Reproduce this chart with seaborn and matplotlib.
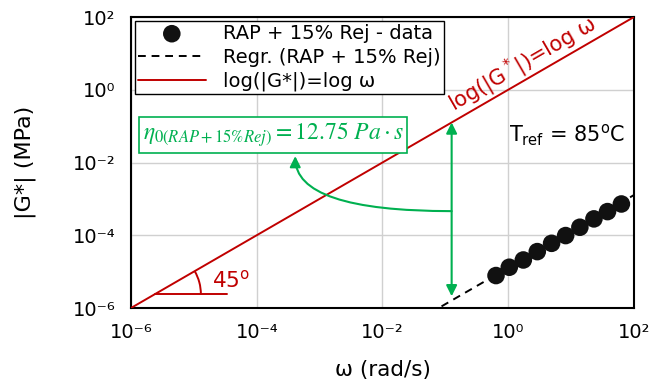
import numpy as np
import pandas as pd
import matplotlib
matplotlib.use("Agg")
import matplotlib.pyplot as plt
import matplotlib.transforms as mtransforms
from matplotlib.patches import Arc
from matplotlib.ticker import FixedLocator, FuncFormatter
import seaborn as sns

# Frequency sweep data (RAP + 15% Rej)
omega = [0.64, 1.04, 1.74, 2.90, 4.90, 8.20, 13.8, 23.1, 38.0, 63.1]          # rad/s
g_star = [7.8e-6, 1.32e-5, 2.09e-5, 3.55e-5, 6.0e-5, 9.8e-5, 1.66e-4,
          2.82e-4, 4.47e-4, 7.24e-4]                                          # MPa

# Newtonian regression: |G*| = eta0 * omega
eta0 = 12.75                      # Pa.s
reg_omega = [0.087, 100]
reg_g = [eta0 * 1e-6 * w for w in reg_omega]

# reference line log|G*| = log omega
ref_omega = [1e-6, 1e2]
ref_g = [1e-6, 1e2]

decades = [1e-6, 1e-4, 1e-2, 1e0, 1e2]

RED = "#C00000"
GREEN = "#00B050"

sns.set_theme(style="white")
plt.rcParams["font.family"] = ["DejaVu Sans"]
plt.rcParams["text.color"] = "black"

SUP = str.maketrans("-0123456789", "⁻⁰¹²³⁴⁵⁶⁷⁸⁹")


def pow10(v, pos):
    return "10" + str(int(round(np.log10(v)))).translate(SUP)


fig = plt.figure(figsize=(6.49, 3.85), dpi=100)
ax = fig.add_axes([0.2018, 0.2, 0.775, 0.7558])
ax.set_xscale("log")
ax.set_yscale("log")
ax.set_xlim(1e-6, 1e2)
ax.set_ylim(1e-6, 1e2)

sns.lineplot(x=ref_omega, y=ref_g, color=RED, lw=1.4, ax=ax,
             label="log(|G*|)=log ω", zorder=3)
sns.lineplot(x=reg_omega, y=reg_g, color="black", lw=1.4, ls=(0, (4, 3)), ax=ax,
             label="Regr. (RAP + 15% Rej)", zorder=3)
sns.scatterplot(x=omega, y=g_star, color="#111111", s=160, edgecolor="none", ax=ax,
                label="RAP + 15% Rej - data", zorder=4)

for axis in (ax.xaxis, ax.yaxis):
    axis.set_major_locator(FixedLocator(decades))
    axis.set_major_formatter(FuncFormatter(pow10))
ax.minorticks_off()
ax.grid(True, color="#d0d0d0", lw=1)
ax.set_axisbelow(True)
for s in ax.spines.values():
    s.set_color("black")
    s.set_linewidth(1.5)
ax.tick_params(axis="both", which="major", direction="out", length=6, width=1.2,
               color="black", labelsize=14, labelcolor="black", pad=5)
ax.set_xlabel("ω (rad/s)", fontsize=15.5, color="black", va="center")
ax.set_ylabel("|G*| (MPa)", fontsize=16, color="black", va="center")
ax.xaxis.set_label_coords(0.5, -0.213)
ax.yaxis.set_label_coords(-0.21, 0.5)

h, l = ax.get_legend_handles_labels()
order = [2, 1, 0]
leg = ax.legend([h[i] for i in order], [l[i] for i in order], loc="upper left",
                fontsize=14, frameon=True, fancybox=False, edgecolor="black",
                framealpha=1, borderaxespad=0.2, handlelength=3.5,
                labelspacing=0.25, borderpad=0.15, handletextpad=0.9,
                labelcolor="black")
leg.get_frame().set_linewidth(1.0)
leg.set_zorder(6)

# label along the equality line
p1 = ax.transData.transform((1e-6, 1e-6))
p2 = ax.transData.transform((1e2, 1e2))
ang = np.degrees(np.arctan2(p2[1] - p1[1], p2[0] - p1[0]))
ax.text(2.2, 2.2, "log(|G$^*$|)=log ω", color=RED, fontsize=15, rotation=ang,
        rotation_mode="anchor", ha="center", va="bottom", zorder=5)

# 45 degree marker
x0 = 2.4e-6
ax.plot([x0, 3.4e-5], [x0, x0], color=RED, lw=1.4, zorder=3)
arc_tr = fig.dpi_scale_trans + mtransforms.ScaledTranslation(x0, x0, ax.transData)
ax.add_patch(Arc((0, 0), 0.92, 0.92, theta1=0, theta2=ang, color=RED, lw=1.4,
                 transform=arc_tr, zorder=3))
ax.text(3.9e-5, 5.9e-6, r"45$^\mathregular{o}$", color=RED, fontsize=15.5,
        ha="center", va="center")

# zero-shear viscosity annotation
x_arrow = 0.126
ax.annotate("", xy=(x_arrow, x_arrow), xytext=(x_arrow, 2.1e-6),
            arrowprops=dict(arrowstyle="<|-|>", color=GREEN, lw=1.5,
                            mutation_scale=16, shrinkA=0, shrinkB=0), zorder=5)
ax.annotate("", xy=(4.1e-4, 1.5e-2), xytext=(x_arrow, 4.6e-4),
            arrowprops=dict(arrowstyle="-|>", color=GREEN, lw=1.5,
                            mutation_scale=16, shrinkA=0, shrinkB=0,
                            connectionstyle="angle3,angleA=0,angleB=90"), zorder=5)
ax.text(0.283, 0.5945, r"$\eta_{0(RAP+15\%Rej)}=12.75\ Pa\cdot s$", color=GREEN,
        fontsize=17, math_fontfamily="stix", transform=ax.transAxes,
        ha="center", va="center", zorder=7,
        bbox=dict(boxstyle="square,pad=0.15", fc="white", ec=GREEN, lw=1.2))

ax.text(0.867, 0.595, r"T$_\mathregular{ref}$ = 85$^\mathregular{o}$C", color="black",
        fontsize=15, transform=ax.transAxes, ha="center", va="center")

fig.savefig("out.png", dpi=100)
